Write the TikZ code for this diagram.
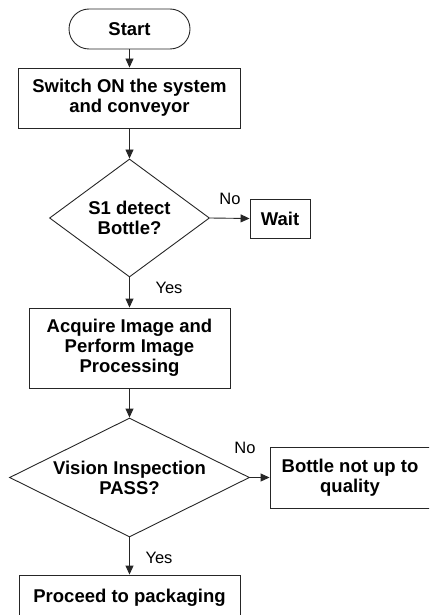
\documentclass[tikz,border=0pt]{standalone}
\usepackage{fontspec}
\setmainfont{Liberation Sans}
\usetikzlibrary{shapes.geometric,arrows.meta}

\tikzset{
  flowline/.style={line width=0.9pt, draw=black!85},
  boxtext/.style={font=\bfseries\fontsize{18.5}{20}\selectfont, align=center, inner sep=0pt},
  procbox/.style={boxtext, rectangle, flowline},
  termbox/.style={boxtext, rectangle, rounded corners=20pt, flowline},
  decision/.style={boxtext, diamond, aspect=2, flowline},
  branchlabel/.style={font=\fontsize{16.5}{18}\selectfont, inner sep=0pt},
  flowarrow/.style={flowline, -{Triangle[length=9pt,width=8pt]}}
}

\begin{document}
\begin{tikzpicture}[x=1pt, y=-1pt]
  \clip (0,0) rectangle (429,615);

  % main column
  \node[termbox, minimum width=121pt, minimum height=40pt] (start) at (129.5,29) {Start};
  \node[procbox, minimum width=222pt, minimum height=60pt] (switch) at (129.5,98) {Switch ON the system\\and conveyor};
  \node[decision, minimum width=160pt, minimum height=118pt] (detect) at (129.5,218) {S1 detect\\Bottle?};
  \node[procbox, minimum width=201pt, minimum height=80pt] (acquire) at (129.5,348) {Acquire Image and\\Perform Image\\Processing};
  \node[decision, minimum width=240pt, minimum height=119pt] (inspect) at (129.5,477.5) {Vision Inspection\\PASS?};
  \node[procbox, minimum width=221pt, minimum height=46pt] (pack) at (129.5,598) {Proceed to packaging};

  % side branches
  \node[procbox, minimum width=60pt, minimum height=39pt] (wait) at (280,218.5) {Wait};
  \node[procbox, minimum width=160pt, minimum height=61pt] (reject) at (350,477.5) {Bottle not up to\\quality};

  % branch labels
  \node[branchlabel] (no1) at (230,199) {No};
  \node[branchlabel] (yes1) at (169,288) {Yes};
  \node[branchlabel] (no2) at (245,448) {No};
  \node[branchlabel] (yes2) at (159,558) {Yes};

  % connectors
  \draw[flowarrow] (start) -- (switch);
  \draw[flowarrow] (switch) -- (detect);
  \draw[flowarrow] (detect.south) -- (acquire.north);
  \draw[flowarrow] (detect.east) -- (wait.west);
  \draw[flowarrow] (acquire) -- (inspect);
  \draw[flowarrow] (inspect.south) -- (pack.north);
  \draw[flowarrow] (inspect.east) -- (reject.west);
\end{tikzpicture}
\end{document}
